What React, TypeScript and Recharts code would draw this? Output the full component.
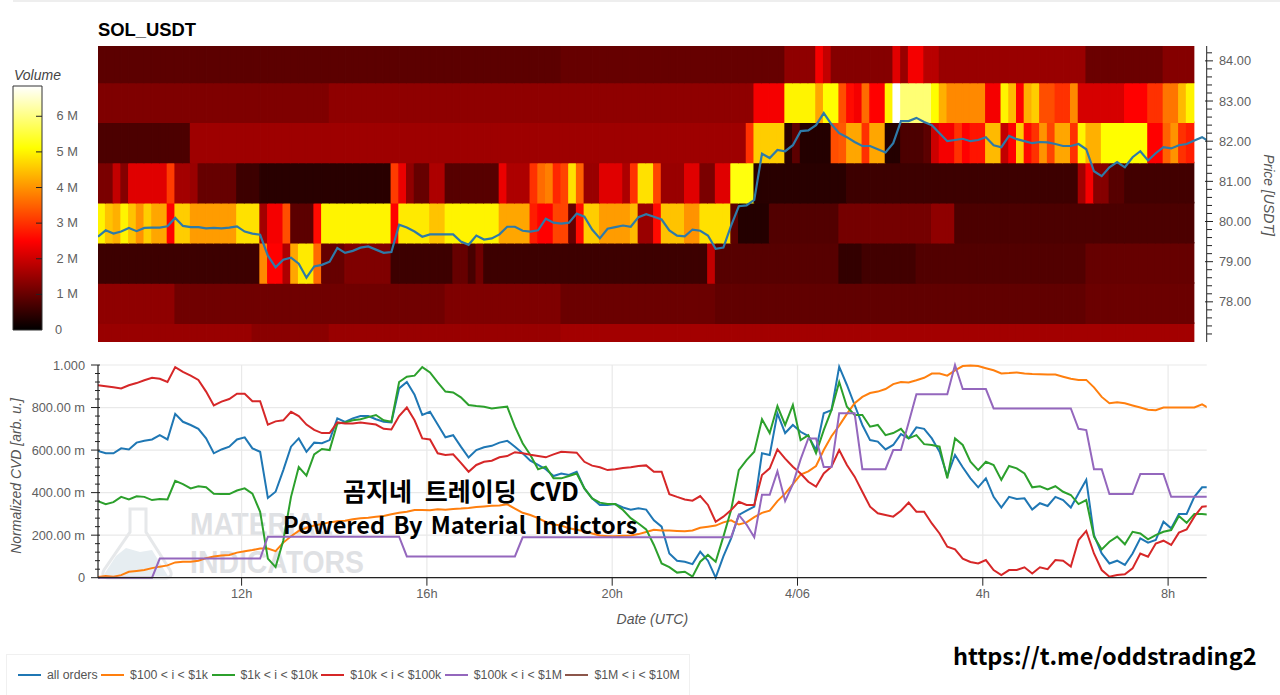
import React from 'react'
import {
  Bar, BarChart, CartesianGrid, Cell, ComposedChart, Label, Line, LineChart, XAxis, YAxis,
} from 'recharts'

type Run = [number, number] // [value, column the run ends at]

// volume per price band (millions), one run list per row, top row first
const heat84: Run[] = [[0.9, 60], [1.0, 89], [1.4, 93], [2.4, 94], [1.9, 95], [1.3, 103], [2.2, 104], [1.5, 105], [2.4, 107], [1.8, 109], [1.5, 128], [1.05, 138], [1.3, 142]]
const heat83: Run[] = [[1.25, 30], [1.4, 85], [2.4, 89], [5.0, 93], [4.2, 94], [5.1, 96], [3.3, 97], [2.6, 98], [2.4, 99], [3.6, 100], [2.5, 102], [5, 103], [6.85, 104], [5.9, 108], [5.1, 109], [4.3, 110], [3.9, 115], [2.4, 117], [5, 118], [4.4, 119], [2.5, 120], [4.3, 121], [4.6, 122], [3.3, 124], [3, 126], [3.9, 127], [2.1, 133], [2.5, 136], [3, 138], [3.7, 140], [4.4, 141], [5, 142]]
const heat82: Run[] = [[0.75, 12], [1.55, 84], [3.0, 85], [4.6, 89], [0.4, 90], [0.9, 91], [0.35, 95], [3.3, 96], [3.4, 97], [4.2, 99], [3, 100], [4.2, 102], [0.35, 104], [0.75, 107], [0.9, 108], [2, 109], [2.4, 111], [3, 112], [2.5, 113], [2.7, 115], [4.4, 117], [1.9, 118], [2.5, 119], [4.6, 120], [2.6, 121], [3, 122], [4, 123], [3.2, 124], [4.2, 126], [3, 127], [5, 128], [4.3, 130], [5.1, 136], [2.5, 138], [3.5, 139], [4, 140], [3, 141], [2.8, 142]]
const heat81: Run[] = [[1.2, 2], [1.9, 3], [1.3, 4], [2.2, 9], [3.1, 10], [1.6, 12], [1.5, 13], [1, 18], [0.6, 21], [0.4, 38], [3.1, 39], [2.3, 40], [1.4, 41], [1.0, 43], [1.7, 45], [0.85, 52], [2.3, 53], [1.7, 56], [3, 57], [3.6, 58], [3.8, 59], [2.9, 60], [3.2, 61], [4.8, 62], [3.5, 63], [1.5, 65], [2.2, 68], [1.7, 69], [3, 70], [4.8, 72], [3.2, 73], [1.5, 76], [2.2, 78], [1.2, 80], [2.2, 82], [5.2, 85], [0.4, 97], [0.6, 127], [1.6, 128], [2.4, 129], [1.3, 131], [0.85, 133], [0.65, 142]]
const heat80: Run[] = [[5, 1], [4.5, 2], [4.3, 3], [5, 4], [4.5, 5], [4, 6], [4.6, 7], [4.2, 9], [2.5, 10], [4.6, 12], [4.1, 18], [4.8, 21], [1.6, 22], [2.4, 24], [3.3, 25], [0.9, 28], [2.6, 29], [5, 38], [2.5, 39], [4.9, 43], [4.5, 45], [5, 52], [4.2, 56], [2.8, 57], [2.5, 59], [3.2, 61], [1, 62], [2.6, 63], [4.6, 65], [4.1, 69], [4.4, 70], [1.5, 72], [2.6, 73], [4.5, 76], [4, 78], [4.8, 82], [0.9, 83], [0.35, 87], [0.8, 96], [1.15, 108], [1.4, 111], [0.75, 142]]
const heat79: Run[] = [[0.6, 21], [3.9, 22], [2.5, 24], [1.7, 25], [4.2, 26], [4.9, 28], [3.6, 29], [1, 32], [1.25, 38], [0.6, 46], [1, 48], [0.7, 49], [1.1, 50], [0.6, 79], [1.9, 80], [0.85, 96], [0.5, 99], [0.65, 106], [0.8, 128], [1, 142]]
const heat78: Run[] = [[1.4, 10], [1.1, 45], [1.25, 60], [1.05, 80], [0.95, 128], [1.05, 142]]
const heat77: Run[] = [[1.5, 20], [1.35, 30], [1.5, 60], [1.6, 142]]

// bottom to top, same order the bars stack in
const heatRuns = [heat77, heat78, heat79, heat80, heat81, heat82, heat83, heat84]
const bandTops = [77.47, 78.47, 79.47, 80.47, 81.47, 82.47, 83.46, 84.37]

const price = [
  79.62, 79.78, 79.70, 79.75, 79.84, 79.76, 79.84, 79.85, 79.85, 79.88,
  80.09, 79.89, 79.86, 79.86, 79.83, 79.84, 79.83, 79.85, 79.88, 79.75,
  79.70, 79.67, 79.15, 78.86, 79.05, 79.1, 78.95, 78.6, 78.88, 78.92,
  79.0, 79.34, 79.22, 79.27, 79.35, 79.38, 79.30, 79.22, 79.24, 79.92,
  79.85, 79.75, 79.62, 79.68, 79.68, 79.68, 79.68, 79.5, 79.42, 79.65,
  79.55, 79.58, 79.68, 79.87, 79.87, 79.77, 79.75, 79.78, 80.07, 79.97,
  79.95, 79.97, 80.2, 80.12, 79.8, 79.58, 79.82, 79.86, 79.9, 79.87,
  80.11, 80.18, 80.12, 80.05, 79.78, 79.65, 79.63, 79.8, 79.77, 79.65,
  79.32, 79.35, 79.9, 80.38, 80.4, 80.54, 81.69, 81.58, 81.78, 81.75,
  81.9, 82.25, 82.27, 82.4, 82.7, 82.42, 82.2, 82.1, 81.98, 81.88,
  81.88, 81.8, 81.72, 81.95, 82.5, 82.5, 82.58, 82.48, 82.4, 82.2,
  82.0, 82.03, 82.06, 82.0, 82.03, 82.1, 81.9, 81.85, 82.13, 82.05,
  82.0, 81.95, 81.98, 81.97, 81.93, 81.88, 81.88, 81.93, 81.8, 81.25,
  81.13, 81.35, 81.48, 81.35, 81.6, 81.75, 81.52, 81.7, 81.85, 81.82,
  81.9, 81.93, 82.02, 82.1, 81.98,
]

const allOrders = [
  .596, .585, .585, .608, .603, .635, .644, .65, .67, .65,
  .77, .733, .718, .70, .655, .585, .603, .616, .65, .66,
  .608, .592, .375, .404, .506, .616, .655, .592, .635, .632,
  .647, .749, .733, .749, .76, .76, .745, .733, .73, .89,
  .92, .86, .765, .78, .72, .66, .67, .616, .565, .60,
  .613, .62, .635, .644, .616, .585, .55, .53, .51, .478,
  .49, .483, .498, .42, .373, .342, .342, .346, .33, .32,
  .326, .32, .27, .24, .114, .08, .075, .064, .122, .08,
  0, .1, .185, .295, .315, .334, .585, .577, .773, .68,
  .718, .686, .666, .60, .773, .788, .992, .906, .812, .718,
  .647, .64, .603, .624, .675, .655, .707, .70, .655, .592,
  .478, .577, .519, .467, .425, .467, .38, .33, .38, .37,
  .373, .32, .35, .337, .38, .365, .33, .396, .46, .20,
  .114, .067, .08, .06, .114, .185, .165, .177, .263, .232,
  .30, .30, .38, .425, .425,
]
const from100 = [
  .003, .008, .005, .012, .028, .032, .036, .045, .052, .058,
  .072, .075, .075, .08, .092, .10, .104, .107, .118, .124,
  .13, .137, .137, .125, .165, .195, .22, .235, .245, .252,
  .26, .265, .268, .275, .28, .282, .286, .29, .298, .305,
  .31, .318, .318, .317, .322, .32, .323, .325, .328, .332,
  .335, .338, .34, .345, .325, .305, .295, .28, .262, .25,
  .245, .232, .225, .218, .208, .198, .195, .195, .197, .198,
  .205, .215, .225, .222, .222, .22, .218, .222, .235, .24,
  .245, .26, .27, .25, .26, .285, .305, .315, .36, .395,
  .44, .485, .50, .525, .60, .665, .715, .77, .82, .85,
  .868, .875, .887, .91, .92, .918, .928, .94, .96, .96,
  .95, .975, .995, .998, .995, .985, .975, .96, .962, .965,
  .96, .958, .957, .955, .955, .945, .935, .93, .93, .895,
  .85, .82, .825, .82, .81, .80, .79, .787, .80, .80,
  .80, .80, .80, .815, .795,
]
const from1k = [
  .36, .346, .355, .38, .368, .383, .38, .365, .37, .368,
  .455, .44, .42, .43, .425, .395, .393, .393, .41, .42,
  .395, .31, .09, .05, .175, .38, .52, .48, .58, .605,
  .60, .725, .73, .74, .745, .755, .765, .74, .733, .92,
  .945, .95, .99, .965, .918, .875, .871, .848, .812, .807,
  .804, .796, .80, .804, .71, .632, .577, .51, .522, .467,
  .467, .478, .49, .42, .373, .353, .346, .346, .318, .28,
  .255, .227, .154, .067, .05, .024, .028, .005, .075, .107,
  .075, .193, .318, .506, .553, .592, .745, .68, .807, .718,
  .812, .647, .67, .585, .694, .788, .92, .804, .765, .765,
  .71, .718, .67, .68, .70, .655, .67, .628, .624, .616,
  .467, .655, .624, .545, .506, .545, .53, .46, .525, .514,
  .49, .425, .43, .415, .43, .404, .389, .346, .365, .193,
  .133, .169, .193, .157, .216, .208, .18, .20, .216, .224,
  .29, .258, .30, .30, .295,
]
const from10k = [
  .905, .90, .895, .89, .905, .915, .928, .94, .935, .92,
  .99, .968, .95, .93, .875, .81, .828, .84, .865, .865,
  .83, .83, .72, .735, .74, .78, .76, .72, .695, .68,
  .68, .73, .725, .725, .73, .725, .72, .70, .697, .76,
  .80, .74, .655, .65, .585, .577, .58, .54, .498, .53,
  .545, .55, .566, .572, .59, .585, .578, .572, .566, .58,
  .592, .59, .588, .545, .527, .519, .506, .51, .516, .519,
  .525, .528, .498, .498, .393, .38, .368, .362, .384, .342,
  .263, .287, .318, .357, .342, .342, .483, .514, .603, .56,
  .522, .49, .451, .428, .49, .522, .60, .53, .475, .404,
  .334, .303, .295, .287, .315, .353, .31, .31, .255, .208,
  .146, .133, .09, .074, .067, .083, .036, .0125, .036, .036,
  .049, .02, .049, .04, .083, .08, .052, .177, .22, .114,
  .036, .005, .0125, .016, .044, .114, .099, .161, .174, .154,
  .212, .227, .287, .334, .337,
]
const from100kRuns: Run[] = [
  [0, 8], [.09, 22], [.193, 40], [.10, 55], [.19, 83], [.295, 84], [.25, 85], [.19, 86], [.39, 88], [.50, 89],
  [.36, 90], [.44, 91], [.556, 92], [.655, 94], [.52, 96], [.773, 99], [.51, 103], [.60, 105], [.73, 106], [.862, 111],
  [1, 112], [.887, 116], [.796, 127], [.70, 128], [.694, 129], [.51, 131], [.393, 135], [.487, 139], [.38, 145],
]

const cvdNames = ['all orders', '$100 < i < $1k', '$1k < i < $10k', '$10k < i < $100k', '$100k < i < $1M', '$1M < i < $10M']
const cvdColors = ['#1f77b4', '#ff7f0e', '#2ca02c', '#d62728', '#9467bd', '#8c564b']
const cvdKeys = ['allOrders', 'from100', 'from1k', 'from10k', 'from100k']

const timeTicks = [18.6, 42.6, 66.6, 90.6, 114.6, 138.6]
const timeLabels = ['12h', '16h', '20h', '4/06', '4h', '8h']

const priceTicks = [
  77.2, 77.4, 77.6, 77.8, 78, 78.2, 78.4, 78.6, 78.8, 79, 79.2, 79.4, 79.6, 79.8, 80, 80.2, 80.4, 80.6,
  80.8, 81, 81.2, 81.4, 81.6, 81.8, 82, 82.2, 82.4, 82.6, 82.8, 83, 83.2, 83.4, 83.6, 83.8, 84, 84.2,
]
const cvdTicks = [
  0, .04, .08, .12, .16, .2, .24, .28, .32, .36, .4, .44, .48, .52, .56, .6, .64, .68, .72, .76, .8, .84, .88, .92, .96, 1,
]
const cvdGrid = [0, .2, .4, .6, .8, 1]
const cvdLabels: Record<string, string> = { '0': '0', '0.2': '200.00 m', '0.4': '400.00 m', '0.6': '600.00 m', '0.8': '800.00 m', '1': '1.000' }
const volumeTicks = [0, 1, 2, 3, 4, 5, 6]
const volumeMax = 6.85

const expand = (runs: Run[]) => {
  const out: number[] = []
  runs.forEach(([v, end]) => { while (out.length < end) out.push(v) })
  return out
}

const heatValues = heatRuns.map(expand)
const from100k = expand(from100kRuns)

const priceRows = price.map((p, i) => {
  const row: any = { t: i, price: p }
  if (i < 142) bandTops.forEach((top, r) => { row['band' + r] = r === 0 ? top : top - bandTops[r - 1] })
  return row
})

const cvdRows = allOrders.map((v, i) => ({
  t: i, allOrders: v, from100: from100[i], from1k: from1k[i], from10k: from10k[i], from100k: from100k[i],
}))

// "hot" style palette that the colour bar shows
const hot = (v: number) => {
  const t = Math.min(v / volumeMax, 1)
  const r = Math.round(Math.min(t / 0.365, 1) * 255)
  const g = Math.round(Math.max(Math.min((t - 0.365) / 0.381, 1), 0) * 255)
  const b = Math.round(Math.max((t - 0.746) / 0.254, 0) * 255)
  return `rgb(${r},${g},${b})`
}

const FONT = '"Liberation Sans", Arial, sans-serif'
const TICK_COLOR = '#5f5f5f'
const CJK = '"Noto Sans CJK KR", "Noto Sans", sans-serif'

const PriceTick = ({ y, payload }: any) => {
  const major = Math.abs(payload.value % 1) < 0.01
  return (
    <g>
      <line x1={major ? 1205 : 1207} x2={major ? 1213 : 1212} y1={y} y2={y} stroke="#222" />
      {major && <text x={1219} y={y + 4.5} fontSize={12.8} fill={TICK_COLOR} fontFamily={FONT}>{payload.value.toFixed(2)}</text>}
    </g>
  )
}

const CvdTick = ({ y, payload }: any) => {
  const label = cvdLabels[String(payload.value)]
  return (
    <g>
      <line x1={label ? 91 : 95} x2={100} y1={y} y2={y} stroke="#222" />
      {label && <text x={85} y={y + 4.5} textAnchor="end" fontSize={12.8} fill={TICK_COLOR} fontFamily={FONT}>{label}</text>}
    </g>
  )
}

const VolumeTick = ({ y, payload }: any) => (
  <g>
    {payload.value > 0 && <line x1={36} x2={42} y1={y} y2={y} stroke="#222" />}
    <text x={payload.value > 0 ? 56.5 : 55} y={y + 4} fontSize={12.8} fill={TICK_COLOR} fontFamily={FONT}>
      {payload.value > 0 ? `${payload.value} M` : '0'}
    </text>
  </g>
)

const Watermark = () => (
  <svg width={300} height={90} style={{ position: 'absolute', left: 90, top: 500 }}>
    <path d="M40 9 H56 V32 L80 70 Q84 78 74 78 H20 Q10 78 14 70 L40 32 Z" fill="none" stroke="#e6e8ea" strokeWidth={3} />
    <path d="M13 76 L26 56 L36 48 L50 52 L62 50 L78 76 Z" fill="#e6edf1" />
    <text x={100} y={35} textLength={143} lengthAdjust="spacingAndGlyphs" fontSize={32} fontWeight={700} fontFamily={FONT} fill="#dfe1e4">MATERIAL</text>
    <text x={100} y={73} textLength={174} lengthAdjust="spacingAndGlyphs" fontSize={32} fontWeight={700} fontFamily={FONT} fill="#dfe1e4">INDICATORS</text>
  </svg>
)

const abs = (left: number, top: number): React.CSSProperties => ({ position: 'absolute', left, top })

export default function App() {
  return (
    <div style={{ position: 'absolute', left: 0, top: 0, width: 1280, height: 695, overflow: 'hidden', background: '#fff', fontFamily: FONT }}>
      <div style={{ ...abs(13, 0), width: 1267, height: 2, background: '#eee' }} />
      <div style={{ ...abs(98, 19), fontSize: 18.4, fontWeight: 700, color: '#000', lineHeight: '21px' }}>SOL_USDT</div>

      {/* colour bar */}
      <div style={{ ...abs(14, 67), fontSize: 14, fontStyle: 'italic', color: '#444', lineHeight: '16px' }}>Volume</div>
      <div style={abs(0, 0)}>
        <BarChart width={100} height={350} data={[{ name: 'Volume', v: volumeMax }]} barCategoryGap={0}
          margin={{ left: 13, right: 0, top: 86, bottom: 20 }}>
          <defs>
            <linearGradient id="hotBar" x1="0" y1="1" x2="0" y2="0">
              <stop offset="0" stopColor="#000000" />
              <stop offset="0.365" stopColor="#ff0000" />
              <stop offset="0.746" stopColor="#ffff00" />
              <stop offset="1" stopColor="#ffffff" />
            </linearGradient>
          </defs>
          <XAxis dataKey="name" hide />
          <YAxis orientation="right" width={58.5} domain={[0, volumeMax]} ticks={volumeTicks} interval={0}
            axisLine={false} tickLine={false} tick={<VolumeTick />} />
          <Bar dataKey="v" fill="url(#hotBar)" stroke="#333" strokeWidth={1} isAnimationActive={false} />
        </BarChart>
      </div>

      {/* heatmap and price */}
      <div style={abs(0, 0)}>
        <ComposedChart width={1280} height={350} data={priceRows} barSize={8} margin={{ left: 98, right: 13.3, top: 46, bottom: 8 }}>
          <XAxis xAxisId="heat" dataKey="t" type="number" domain={[-0.5, 143.1]} allowDataOverflow hide />
          <XAxis xAxisId="line" dataKey="t" type="number" domain={[0, 143.6]} allowDataOverflow hide />
          <YAxis orientation="right" width={60} domain={[77, 84.37]} allowDataOverflow ticks={priceTicks} interval={0}
            axisLine={{ stroke: '#222' }} tickLine={false} tick={<PriceTick />}>
            <Label value="Price [USDT]" angle={90} position={{ x: 57, y: 149 }} fontSize={14} fontStyle="italic" fill="#555"
              style={{ textAnchor: 'middle' }} />
          </YAxis>
          {bandTops.map((_, r) => (
            <Bar key={r} xAxisId="heat" dataKey={'band' + r} stackId="heat" isAnimationActive={false}>
              {priceRows.map((_, i) => {
                const c = i < 142 ? hot(heatValues[r][i]) : 'none'
                return <Cell key={i} fill={c} stroke={c} strokeWidth={1.6} />
              })}
            </Bar>
          ))}
          <Line xAxisId="line" dataKey="price" stroke="#2e7aa8" strokeWidth={2.2} dot={false} type="linear" isAnimationActive={false} />
        </ComposedChart>
      </div>

      <Watermark />

      {/* normalized CVD */}
      <div style={abs(0, 350)}>
        <LineChart width={1280} height={290} data={cvdRows} margin={{ left: 8, right: 73.3, top: 15, bottom: 2.3 }}>
          <CartesianGrid stroke="#e9e9e9" strokeWidth={1.2} horizontalValues={cvdGrid} verticalValues={timeTicks} />
          <XAxis dataKey="t" type="number" domain={[0, 143.6]} allowDataOverflow ticks={timeTicks} interval={0} height={60}
            tickFormatter={(v: number) => timeLabels[timeTicks.indexOf(v)]} tickSize={8} tickMargin={3}
            axisLine={{ stroke: '#222', strokeWidth: 1.2 }} tickLine={{ stroke: '#222' }}
            tick={{ fontSize: 12.8, fill: TICK_COLOR }}>
            <Label value="Date (UTC)" position="insideBottom" offset={14} fontSize={14} fontStyle="italic" fill="#555" />
          </XAxis>
          <YAxis width={90} domain={[0, 1]} ticks={cvdTicks} interval={0}
            axisLine={{ stroke: '#222', strokeWidth: 1.2 }} tickLine={false} tick={<CvdTick />}>
            <Label value="Normalized CVD [arb. u.]" angle={-90} position={{ x: 13, y: 111 }} fontSize={14} fontStyle="italic" fill="#555"
              style={{ textAnchor: 'middle' }} />
          </YAxis>
          {cvdKeys.map((k, s) => (
            <Line key={k} dataKey={k} name={cvdNames[s]} stroke={cvdColors[s]} strokeWidth={2} dot={false} type="linear" isAnimationActive={false} />
          ))}
        </LineChart>
      </div>

      {/* legend box */}
      <div style={{ ...abs(6, 654), width: 684, height: 45, border: '1px solid #f0f0f0', boxSizing: 'border-box', display: 'flex', alignItems: 'flex-start', paddingLeft: 11, paddingTop: 13, fontSize: 12.3, color: '#555', whiteSpace: 'nowrap' }}>
        {cvdNames.map((n, s) => (
          <span key={n} style={{ display: 'flex', alignItems: 'center', marginRight: 3.5 }}>
            <span style={{ width: 23, height: 2, background: cvdColors[s], marginRight: 6 }} />{n}
          </span>
        ))}
      </div>

      <div style={{ ...abs(343, 474), fontFamily: CJK, fontWeight: 700, fontSize: 25, lineHeight: '32px', wordSpacing: 7, color: '#000', whiteSpace: 'pre' }}>곰지네 트레이딩 CVD</div>
      <div style={{ ...abs(283, 508), fontFamily: CJK, fontWeight: 700, fontSize: 23.5, lineHeight: '32px', wordSpacing: 3, color: '#000', whiteSpace: 'pre' }}>Powered By Material Indictors</div>
      <div style={{ ...abs(953, 640), fontFamily: CJK, fontWeight: 700, fontSize: 23.5, lineHeight: '30px', color: '#000', whiteSpace: 'pre' }}>https://t.me/oddstrading2</div>
    </div>
  )
}
